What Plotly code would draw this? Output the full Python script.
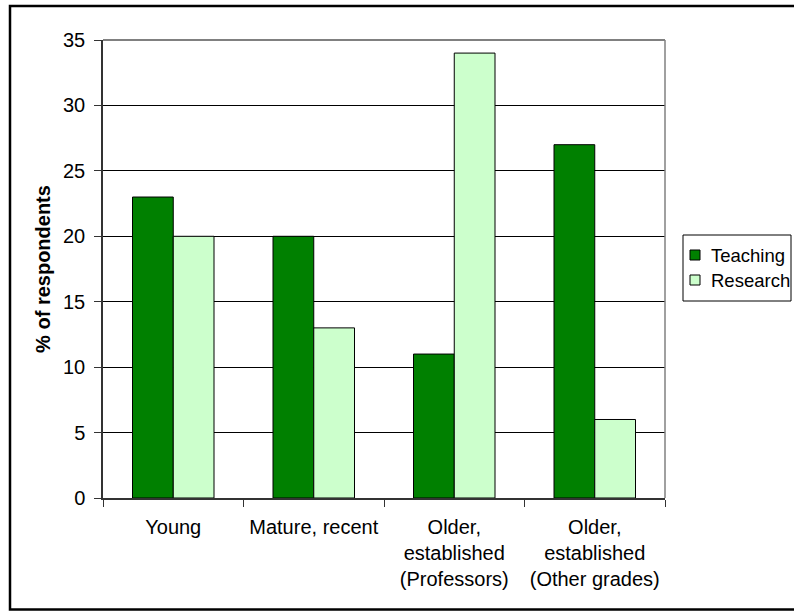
import plotly.graph_objects as go

# Survey results: share of respondents by career stage
categories = [
    "Young",
    "Mature, recent",
    "Older,<br>established<br>(Professors)",
    "Older,<br>established<br>(Other grades)",
]
teaching = [23, 20, 11, 27]
research = [20, 13, 34, 6]
series_names = ["Teaching", "Research"]
series_colors = ["#008000", "#CCFFCC"]
y_ticks = [0, 5, 10, 15, 20, 25, 30, 35]

W, H = 794, 611
L, R, T, B = 103, 129, 40, 113
PW, PH = W - L - R, H - T - B


def px(x):
    return (x - L) / PW


def py(y):
    return (H - B - y) / PH


FONT = "Liberation Sans, Arial, sans-serif"

fig = go.Figure()
for name, vals, col in zip(series_names, [teaching, research], series_colors):
    fig.add_trace(go.Bar(
        x=categories, y=vals, name=name,
        marker=dict(color=col, line=dict(color="#000000", width=1)),
        showlegend=False,
    ))

shapes = [
    # plot-area frame (top and right edges)
    dict(type="line", xref="paper", yref="paper", x0=0, y0=1, x1=1, y1=1,
         line=dict(color="#808080", width=2)),
    dict(type="line", xref="paper", yref="paper", x0=1, y0=0, x1=1, y1=1,
         line=dict(color="#808080", width=1.5)),
    # chart border (right side runs past the page edge)
    dict(type="rect", xref="paper", yref="paper",
         x0=px(10), y0=py(609.5), x1=px(830), y1=py(6),
         line=dict(color="#000000", width=2.5)),
    # legend box
    dict(type="rect", xref="paper", yref="paper",
         x0=px(683), y0=py(301), x1=px(791), y1=py(235),
         line=dict(color="#000000", width=1), fillcolor="#FFFFFF"),
]
annotations = []
for i, (name, col) in enumerate(zip(series_names, series_colors)):
    yc = 255 + i * 25
    shapes.append(dict(type="rect", xref="paper", yref="paper",
                       x0=px(690), y0=py(yc + 5), x1=px(700), y1=py(yc - 5),
                       line=dict(color="#000000", width=1), fillcolor=col))
    annotations.append(dict(xref="paper", yref="paper", x=px(709), y=py(yc),
                            text=name, showarrow=False, xanchor="left",
                            yanchor="middle",
                            font=dict(family=FONT, size=18.5, color="#000000")))

fig.update_layout(
    width=W, height=H,
    margin=dict(l=L, r=R, t=T, b=B, autoexpand=False),
    paper_bgcolor="#FFFFFF", plot_bgcolor="#FFFFFF",
    barmode="group", bargap=0.42, bargroupgap=0,
    font=dict(family=FONT, size=20, color="#000000"),
    shapes=shapes, annotations=annotations,
    xaxis=dict(
        type="category", tickson="boundaries",
        ticks="outside", ticklen=7, tickcolor="#333333",
        showline=True, linecolor="#333333", linewidth=1.5,
        showgrid=False, tickfont=dict(size=20), ticklabelstandoff=10,
    ),
    yaxis=dict(
        range=[0, 35], tickvals=y_ticks,
        ticks="outside", ticklen=7, tickcolor="#333333",
        showline=True, linecolor="#333333", linewidth=1.5,
        showgrid=True, gridcolor="#000000", gridwidth=1,
        zeroline=False, tickfont=dict(size=20), ticklabelstandoff=5,
        title=dict(text="% of respondents", standoff=7,
                   font=dict(size=20, weight="bold")),
    ),
)

fig.write_html("out.html")
